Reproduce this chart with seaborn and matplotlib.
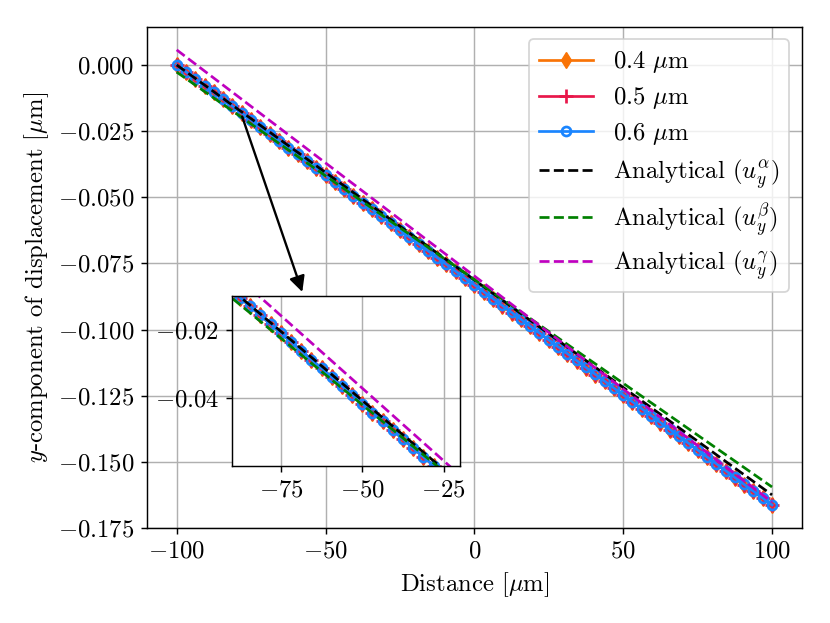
import matplotlib
matplotlib.use("Agg")
import matplotlib.pyplot as plt
import seaborn as sns

# --- data ---
distance = [
    -100, -96.875, -93.75, -90.625, -87.5, -84.375, -81.25, -78.125, -75,
    -71.875, -68.75, -65.625, -62.5, -59.375, -56.25, -53.125, -50, -46.875,
    -43.75, -40.625, -37.5, -34.375, -31.25, -28.125, -25, -21.875, -18.75,
    -15.625, -12.5, -9.375, -6.25, -3.125, 0, 3.125, 6.25, 9.375, 12.5,
    15.625, 18.75, 21.875, 25, 28.125, 31.25, 34.375, 37.5, 40.625, 43.75,
    46.875, 50, 53.125, 56.25, 59.375, 62.5, 65.625, 68.75, 71.875, 75,
    78.125, 81.25, 84.375, 87.5, 90.625, 93.75, 96.875, 100,
]
uy_04 = [
    0.0, -0.0026, -0.0052, -0.0078, -0.0104, -0.0130, -0.0156, -0.0182,
    -0.0208, -0.0234, -0.0260, -0.0286, -0.0312, -0.0338, -0.0364, -0.0390,
    -0.0416, -0.0442, -0.0468, -0.0494, -0.0520, -0.0546, -0.0572, -0.0598,
    -0.0624, -0.0650, -0.0676, -0.0702, -0.0728, -0.0754, -0.0780, -0.0806,
    -0.0832, -0.0858, -0.0884, -0.0910, -0.0936, -0.0962, -0.0988, -0.1014,
    -0.1040, -0.1066, -0.1092, -0.1118, -0.1144, -0.1170, -0.1196, -0.1222,
    -0.1248, -0.1274, -0.1300, -0.1326, -0.1352, -0.1378, -0.1404, -0.1430,
    -0.1456, -0.1482, -0.1508, -0.1534, -0.1560, -0.1586, -0.1612, -0.1638,
    -0.1664,
]
uy_05 = [
    0.0, -0.0026, -0.0052, -0.0078, -0.0104, -0.0130, -0.0156, -0.0182,
    -0.0208, -0.0234, -0.0260, -0.0286, -0.0312, -0.0338, -0.0364, -0.0390,
    -0.0416, -0.0442, -0.0468, -0.0494, -0.0520, -0.0546, -0.0572, -0.0598,
    -0.0624, -0.0650, -0.0676, -0.0702, -0.0728, -0.0754, -0.0780, -0.0806,
    -0.0832, -0.0858, -0.0884, -0.0910, -0.0936, -0.0962, -0.0988, -0.1014,
    -0.1040, -0.1066, -0.1092, -0.1118, -0.1144, -0.1170, -0.1196, -0.1222,
    -0.1248, -0.1274, -0.1300, -0.1326, -0.1352, -0.1378, -0.1404, -0.1430,
    -0.1456, -0.1482, -0.1508, -0.1534, -0.1560, -0.1586, -0.1612, -0.1638,
    -0.1664,
]
uy_06 = [
    0.0, -0.0026, -0.0052, -0.0078, -0.0104, -0.0130, -0.0156, -0.0182,
    -0.0208, -0.0234, -0.0260, -0.0286, -0.0312, -0.0338, -0.0364, -0.0390,
    -0.0416, -0.0442, -0.0468, -0.0494, -0.0520, -0.0546, -0.0572, -0.0598,
    -0.0624, -0.0650, -0.0676, -0.0702, -0.0728, -0.0754, -0.0780, -0.0806,
    -0.0831, -0.0857, -0.0883, -0.0909, -0.0935, -0.0961, -0.0987, -0.1013,
    -0.1039, -0.1065, -0.1091, -0.1117, -0.1143, -0.1169, -0.1195, -0.1221,
    -0.1247, -0.1273, -0.1299, -0.1325, -0.1351, -0.1377, -0.1403, -0.1429,
    -0.1455, -0.1481, -0.1507, -0.1533, -0.1559, -0.1585, -0.1611, -0.1637,
    -0.1663,
]
analytic_x = [-100, 100]
uy_alpha = [0.0, -0.1625]
uy_beta = [-0.0027, -0.1595]
uy_gamma = [0.0057, -0.1652]

sns.set_style("ticks", {
    "axes.grid": True,
    "grid.color": "#b0b0b0",
    "axes.edgecolor": "black",
    "axes.labelcolor": "black",
    "text.color": "black",
    "xtick.color": "black",
    "ytick.color": "black",
})
plt.rcParams.update({
    "font.family": "serif",
    "font.serif": ["cmr10"],
    "mathtext.fontset": "cm",
    "axes.formatter.use_mathtext": True,
    "font.size": 13.7,
    "grid.linewidth": 0.8,
    "axes.linewidth": 0.8,
    "lines.solid_capstyle": "projecting",
})

SERIES = [
    (uy_04, r"0.4 $\mu$m", "#f97306", dict(marker="d", markersize=6)),
    (uy_05, r"0.5 $\mu$m", "#e8174a", dict(marker="+", markersize=8, markeredgewidth=1.5)),
    (uy_06, r"0.6 $\mu$m", "#1a85ff", dict(marker="o", markersize=5, markerfacecolor="none",
                                          markeredgewidth=1.5)),
]
ANALYTIC = [
    (uy_alpha, r"Analytical ($u_y^\alpha$)", "black"),
    (uy_beta, r"Analytical ($u_y^\beta$)", "green"),
    (uy_gamma, r"Analytical ($u_y^\gamma$)", "m"),
]


def draw(ax, with_labels):
    for y, label, color, kw in SERIES:
        sns.lineplot(x=distance, y=y, color=color, ax=ax, linewidth=1.5,
                     markeredgecolor=color, label=label if with_labels else None,
                     legend=False, **kw)
    for y, label, color in ANALYTIC:
        sns.lineplot(x=analytic_x, y=y, color=color, ax=ax, linewidth=1.5,
                     linestyle="--", label=label if with_labels else None,
                     legend=False)


fig = plt.figure(figsize=(830 / 130, 623 / 130), dpi=130)
ax = fig.add_axes([0.177, 0.1525, 0.789, 0.804])
draw(ax, True)
ax.set_xticks([-100, -50, 0, 50, 100])
ax.set_xlabel(r"Distance [$\mu$m]")
ax.set_ylabel(r"$y$-component of displacement [$\mu$m]")
ax.legend(loc="upper right", handlelength=2.2, labelspacing=0.4)

ax.annotate("", xy=(-57.8, -0.0858), xytext=(-78.0, -0.0195),
            arrowprops=dict(arrowstyle="-|>", color="black", lw=1.3,
                            mutation_scale=18, shrinkA=0, shrinkB=0))

inset = fig.add_axes([0.2795, 0.2515, 0.2747, 0.2729])
draw(inset, False)
inset.set_xlim(-90, -20)
inset.set_ylim(-0.06, -0.01)
inset.set_xticks([-75, -50, -25])
inset.set_yticks([-0.04, -0.02])
inset.set_xlabel("")
inset.set_ylabel("")

fig.savefig("out.png", dpi=130)
